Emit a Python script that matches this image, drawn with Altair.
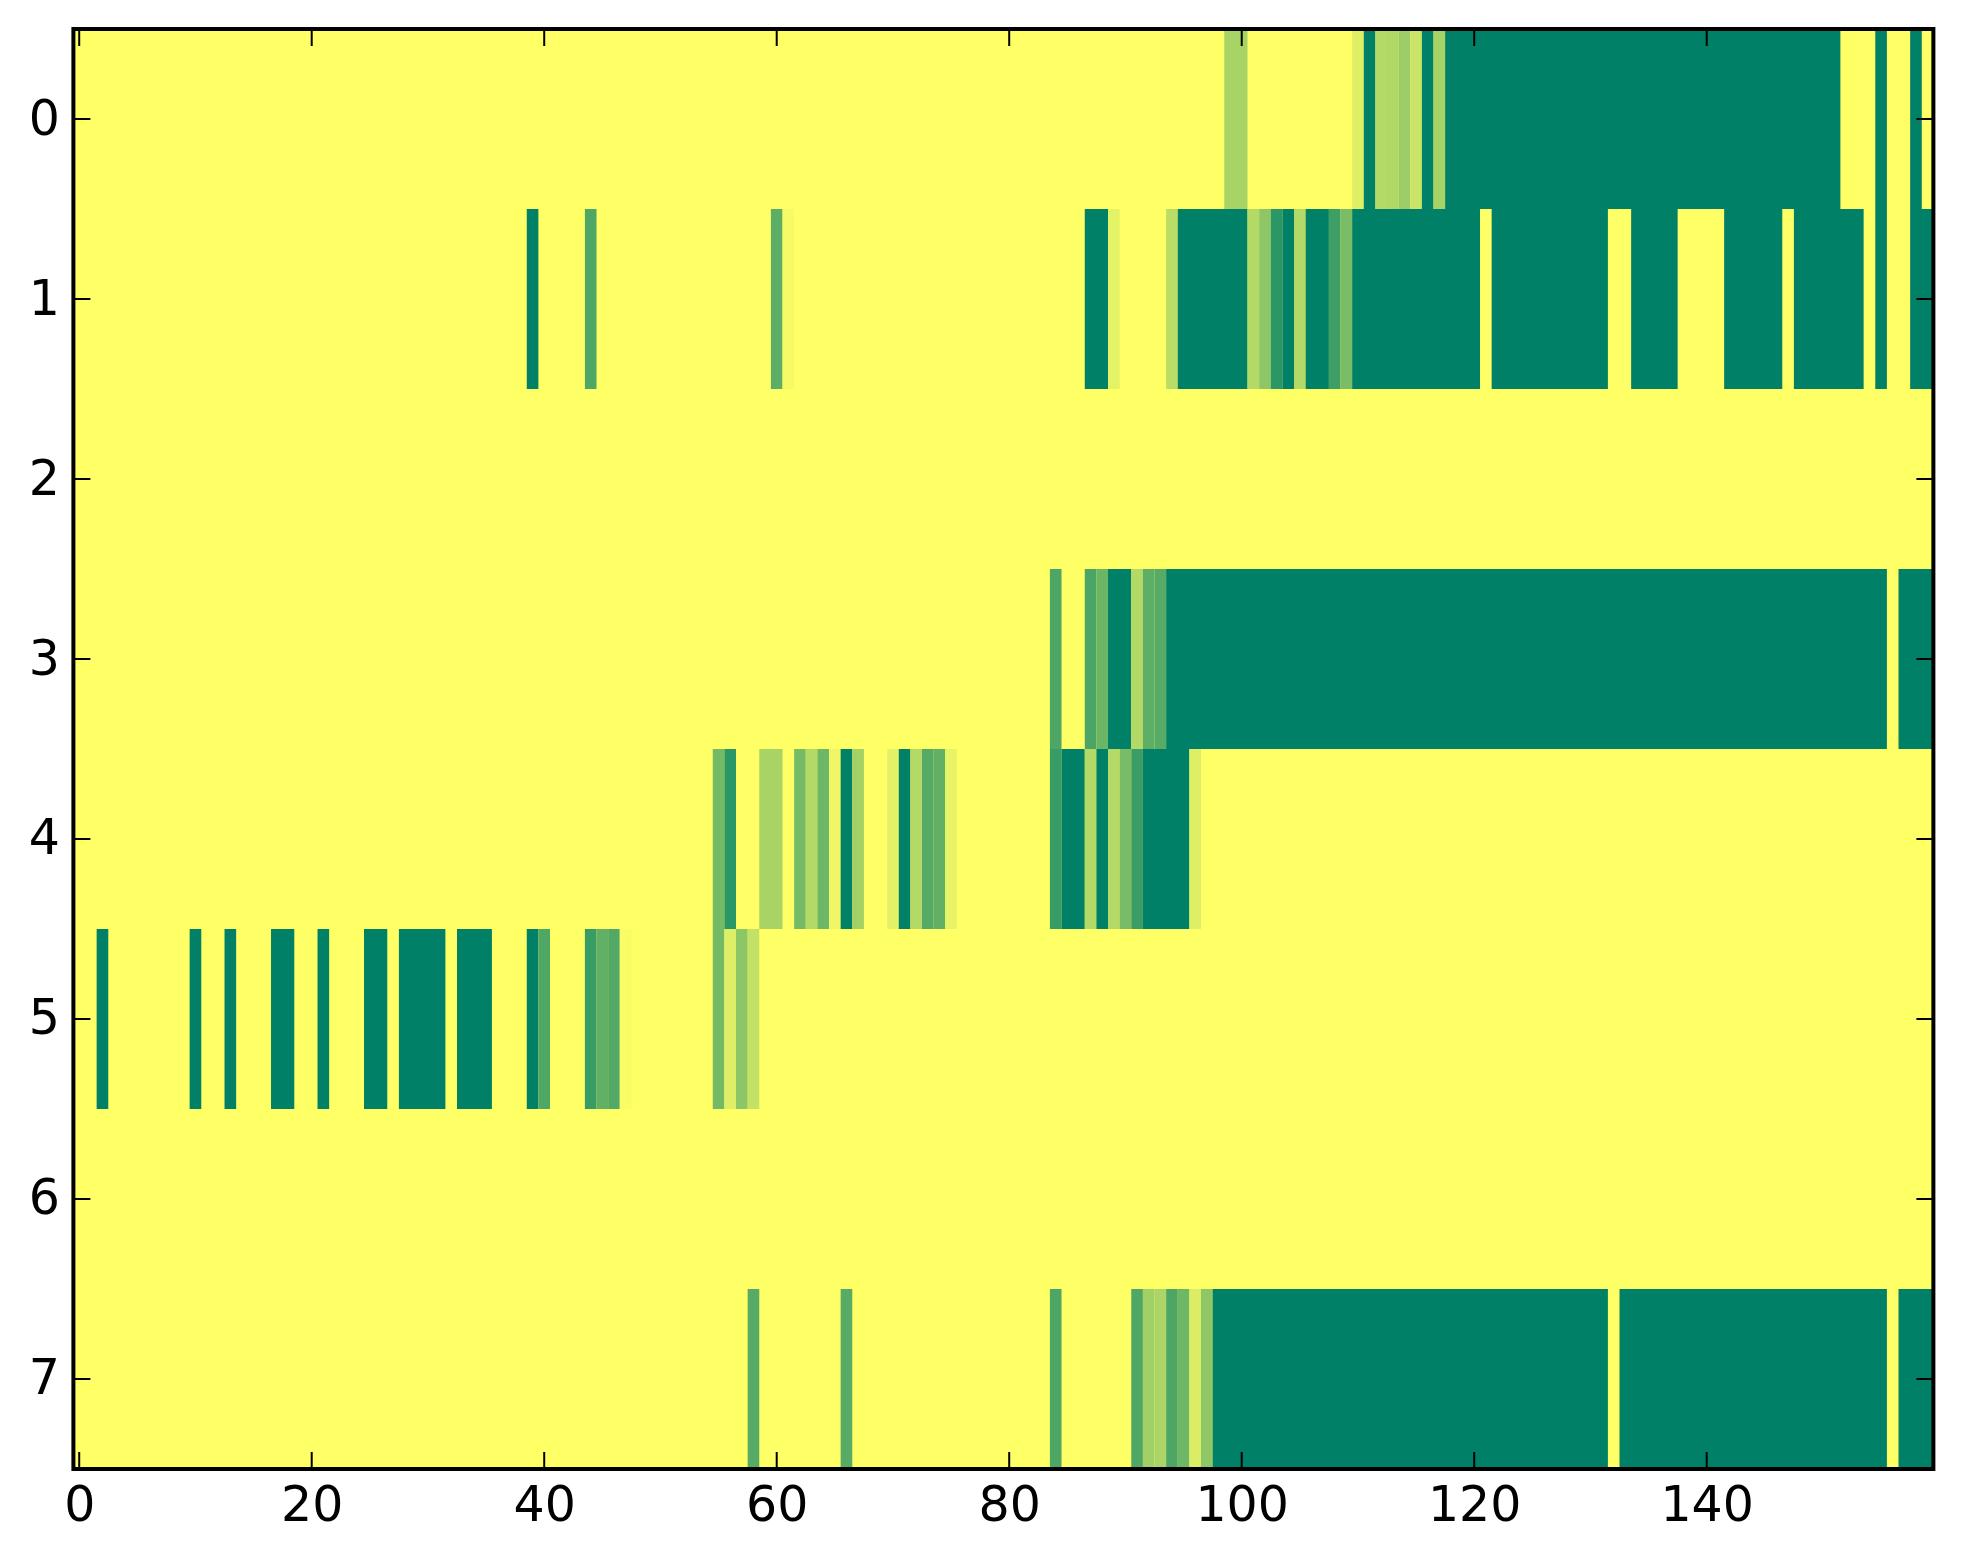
import altair as alt
import pandas as pd

# runs of equal value per row: (first column, last column, value); all other cells are 0
row0 = [(99,100,.34),(110,110,.12),(111,111,1),(112,112,.30),(113,113,.31),(114,114,.39),(115,115,.21),
        (116,116,1),(117,117,.35),(118,151,1),(155,155,1),(158,158,1)]
row1 = [(39,39,1),(44,44,.69),(60,60,.64),(61,61,.04),(87,88,1),(89,89,.106),(94,94,.27),(95,100,1),
        (101,101,.30),(102,102,.45),(103,103,.83),(104,104,1),(105,105,.30),(106,107,1),(108,108,.76),
        (109,109,.52),(110,120,1),(122,131,1),(134,137,1),(142,146,1),(148,153,1),(155,155,1),(158,159,1)]
row2 = []
row3 = [(84,84,.70),(87,87,.71),(88,88,.58),(89,90,1),(91,91,.30),(92,92,.63),(93,93,.66),(94,155,1),(157,159,1)]
row4 = [(55,55,.55),(56,56,.83),(59,60,.34),(62,62,.54),(63,63,.30),(64,64,.57),(65,65,.06),(66,66,1),
        (67,67,.36),(70,70,.11),(71,71,1),(72,72,.30),(73,73,.67),(74,74,.62),(75,75,.09),(84,84,.78),
        (85,86,1),(87,87,.30),(88,88,1),(89,89,.30),(90,90,.53),(91,91,.77),(92,95,1),(96,96,.13)]
row5 = [(2,2,1),(10,10,1),(13,13,1),(17,18,1),(21,21,1),(25,26,1),(28,31,1),(33,35,1),(39,39,1),(40,40,.69),
        (44,44,.78),(45,45,.62),(46,46,.68),(47,47,.02),(55,55,.55),(56,56,.13),(57,57,.45),(58,58,.24)]
row6 = []
row7 = [(58,58,.66),(66,66,.66),(84,84,.70),(91,91,.69),(92,92,.37),(93,93,.33),(94,94,.70),(95,95,.57),
        (96,96,.14),(97,97,.44),(98,131,1),(133,155,1),(157,159,1)]
rows = [row0, row1, row2, row3, row4, row5, row6, row7]

x_ticks = [0, 20, 40, 60, 80, 100, 120, 140]
y_ticks = [0, 1, 2, 3, 4, 5, 6, 7]

W, H = 1860, 1440
TICK = 17
FONT = "DejaVu Sans"

cells = pd.DataFrame([
    {"y0": r - 0.5, "y1": r + 0.5, "x0": a - 0.5, "x1": b + 0.5, "v": v}
    for r, runs in enumerate(rows) for a, b, v in runs
])

xs = alt.Scale(domain=[-0.5, 159.5], nice=False, zero=False)
ys = alt.Scale(domain=[7.5, -0.5], nice=False, zero=False)

ax_x = alt.Axis(values=x_ticks, ticks=False, domain=False, grid=False, title=None, labelFont=FONT,
                labelFontSize=49, labelColor="black", labelPadding=12.5, labelOverlap=False,
                labelFlush=False, labelAngle=0, format="d")
ax_y = alt.Axis(values=y_ticks, ticks=False, domain=False, grid=False, title=None, labelFont=FONT,
                labelFontSize=49, labelColor="black", labelPadding=14, labelOverlap=False,
                labelFlush=False, format="d")

heat = alt.Chart(cells).mark_rect(strokeWidth=0).encode(
    x=alt.X("x0:Q", scale=xs, axis=ax_x),
    x2="x1:Q",
    y=alt.Y("y0:Q", scale=ys, axis=ax_y),
    y2="y1:Q",
    color=alt.Color("v:Q", scale=alt.Scale(domain=[0, 1], range=["#ffff66", "#008066"], interpolate="rgb"), legend=None),
)

xt = pd.DataFrame({"t": x_ticks})
yt = pd.DataFrame({"t": y_ticks})
tick_mark = dict(color="black", strokeWidth=2)
ticks = [
    alt.Chart(xt).mark_rule(**tick_mark).encode(x=alt.X("t:Q", scale=xs, axis=ax_x), y=alt.value(H - TICK), y2=alt.value(H)),
    alt.Chart(xt).mark_rule(**tick_mark).encode(x=alt.X("t:Q", scale=xs, axis=ax_x), y=alt.value(0), y2=alt.value(TICK)),
    alt.Chart(yt).mark_rule(**tick_mark).encode(y=alt.Y("t:Q", scale=ys, axis=ax_y), x=alt.value(0), x2=alt.value(TICK)),
    alt.Chart(yt).mark_rule(**tick_mark).encode(y=alt.Y("t:Q", scale=ys, axis=ax_y), x=alt.value(W - TICK), x2=alt.value(W)),
]

frame = alt.Chart(pd.DataFrame({"f": [0]})).mark_rect(fillOpacity=0, stroke="black", strokeWidth=4).encode(
    x=alt.value(0), x2=alt.value(W), y=alt.value(0), y2=alt.value(H)
)

chart = alt.layer(heat, *ticks, frame).properties(
    width=W, height=H, background="white",
    padding={"left": 19.4, "top": 19, "right": 5, "bottom": 5},
).configure_view(fill="#ffff66", stroke=None)

chart.save("out.html", embed_options={"renderer": "svg", "actions": False})
